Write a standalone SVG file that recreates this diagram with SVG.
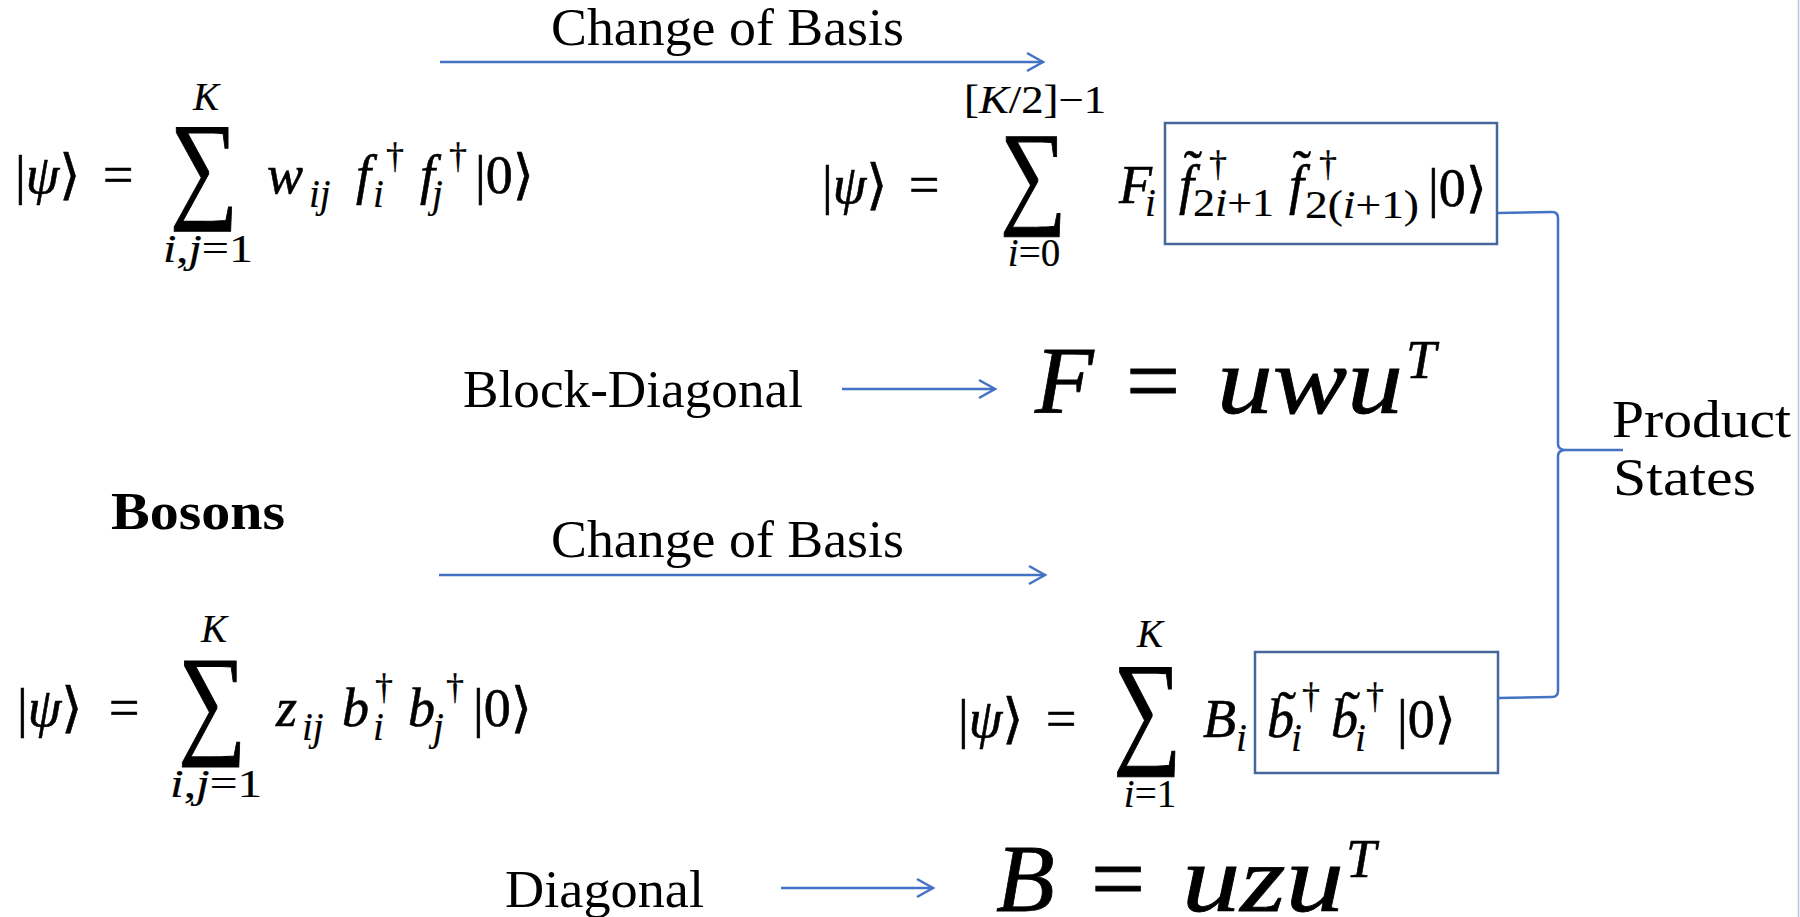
<svg xmlns="http://www.w3.org/2000/svg" width="1800" height="917" viewBox="0 0 1800 917">
<style>
  .lbl { font-family: "Liberation Serif", "DejaVu Serif", serif; font-size: 53px; fill: #000; }
  .m { font-family: "Liberation Serif", "DejaVu Serif", serif; font-size: 54px; fill: #000; stroke: #000; stroke-width: 0.6px; }
  .s { font-size: 39px; stroke-width: 0.2px; }
  .sup { font-size: 36px; stroke-width: 0.3px; }
  .it { font-style: italic; }
  .big { font-size: 96px; stroke-width: 0.8px; }
  .sum { font-family: "Liberation Serif", "DejaVu Serif", serif; font-size: 120px; fill: #000; stroke: #000; stroke-width: 1px; }
  .conn { fill: none; stroke: #4472C4; stroke-width: 2.5; }
  .box { fill: none; stroke: #45679A; stroke-width: 2.5; }
</style>
<defs>
  <marker id="arr" markerUnits="userSpaceOnUse" viewBox="-18 -12 22 24" markerWidth="22" markerHeight="24" refX="0" refY="0" orient="auto">
    <path d="M-16,-9 L0,0 L-16,9" fill="none" stroke="#4472C4" stroke-width="2.5"/>
  </marker>
</defs>
<rect x="0" y="0" width="1800" height="917" fill="#ffffff"/>
<line x1="1798.5" y1="0" x2="1798.5" y2="917" stroke="#b8c2d6" stroke-width="1.5"/>

<g id="change-basis-1"><text class="lbl" x="551" y="45" textLength="353" lengthAdjust="spacingAndGlyphs">Change of Basis</text></g>
<g id="change-basis-2"><text class="lbl" x="551" y="557" textLength="353" lengthAdjust="spacingAndGlyphs">Change of Basis</text></g>
<g id="block-diagonal-label"><text class="lbl" x="463" y="407" textLength="340" lengthAdjust="spacingAndGlyphs">Block-Diagonal</text></g>
<g id="diagonal-label"><text class="lbl" x="505" y="907" textLength="199" lengthAdjust="spacingAndGlyphs">Diagonal</text></g>
<g id="bosons-label"><text class="lbl" x="111" y="529" font-weight="bold" textLength="174" lengthAdjust="spacingAndGlyphs">Bosons</text></g>
<g id="product-states">
  <text class="lbl" x="1612" y="437" textLength="179" lengthAdjust="spacingAndGlyphs">Product</text>
  <text class="lbl" x="1613" y="495" textLength="143" lengthAdjust="spacingAndGlyphs">States</text>
</g>

<!-- Fermion pair state -->
<g id="fermion-sum">
  <text class="m" x="15" y="193">|<tspan class="it">ψ</tspan>⟩</text>
  <text class="m" x="103" y="193" font-size="58">=</text>
  <text class="sum" transform="translate(170,206) scale(0.8,1)">∑</text>
  <text class="m s it" x="206" y="110" text-anchor="middle">K</text>
  <text class="m s" x="208" y="262" text-anchor="middle" textLength="90" lengthAdjust="spacingAndGlyphs"><tspan class="it">i</tspan>,<tspan class="it">j</tspan>=1</text>
  <text class="m it" x="267" y="193" font-size="58">w</text>
  <text class="m s it" x="309" y="207">ij</text>
  <text class="m it" x="356" y="193" font-size="58">f</text>
  <text class="m s it" x="373" y="207">i</text>
  <text class="m sup" x="386" y="168">†</text>
  <text class="m it" x="420" y="193" font-size="58">f</text>
  <text class="m s it" x="432" y="207">j</text>
  <text class="m sup" x="449" y="168">†</text>
  <text class="m" x="475" y="193">|0⟩</text>
</g>

<g id="fermion-product">
  <text class="m" x="822" y="203">|<tspan class="it">ψ</tspan>⟩</text>
  <text class="m" x="909" y="203" font-size="58">=</text>
  <text class="sum" transform="translate(1000,212) scale(0.78,0.96)">∑</text>
  <text class="m s" x="1035" y="113" text-anchor="middle" textLength="142" lengthAdjust="spacingAndGlyphs">[<tspan class="it">K</tspan>/2]−1</text>
  <text class="m s" x="1034" y="266" text-anchor="middle"><tspan class="it">i</tspan>=0</text>
  <text class="m it" x="1119" y="203">F</text>
  <text class="m s it" x="1145" y="216">i</text>
  <rect class="box" x="1165" y="123" width="332" height="121"/>
  <text class="m it" x="1179" y="203" font-size="60">f</text>
  <text class="m" x="1193" y="188" text-anchor="middle" font-size="62">˜</text>
  <text class="m sup" x="1209" y="176">†</text>
  <text class="m s" x="1193" y="216" textLength="81" lengthAdjust="spacingAndGlyphs">2<tspan class="it">i</tspan>+1</text>
  <text class="m it" x="1289" y="203" font-size="60">f</text>
  <text class="m" x="1302" y="188" text-anchor="middle" font-size="62">˜</text>
  <text class="m sup" x="1319" y="176">†</text>
  <text class="m s" x="1305" y="218" textLength="114" lengthAdjust="spacingAndGlyphs">2(<tspan class="it">i</tspan>+1)</text>
  <text class="m" x="1428" y="206">|0⟩</text>
</g>

<g id="F-eq">
  <text class="m big it" x="1035" y="413" font-size="100">F</text>
  <text class="m big" x="1126" y="413">=</text>
  <text class="m big it" x="1217" y="413" textLength="186" lengthAdjust="spacingAndGlyphs">uwu</text>
  <text class="m it" x="1406" y="378" font-size="64" stroke-width="0.6">T</text>
</g>

<!-- Boson pair state -->
<g id="boson-sum">
  <text class="m" x="17" y="726">|<tspan class="it">ψ</tspan>⟩</text>
  <text class="m" x="109" y="726" font-size="58">=</text>
  <text class="sum" transform="translate(178,741) scale(0.8,1.02)">∑</text>
  <text class="m s it" x="214" y="642" text-anchor="middle">K</text>
  <text class="m s" x="216" y="797" text-anchor="middle" textLength="92" lengthAdjust="spacingAndGlyphs"><tspan class="it">i</tspan>,<tspan class="it">j</tspan>=1</text>
  <text class="m it" x="276" y="726" font-size="58">z</text>
  <text class="m s it" x="302" y="740">ij</text>
  <text class="m it" x="342" y="726" font-size="58">b</text>
  <text class="m s it" x="373" y="740">i</text>
  <text class="m sup" x="375" y="699">†</text>
  <text class="m it" x="408" y="726" font-size="58">b</text>
  <text class="m s it" x="433" y="740">j</text>
  <text class="m sup" x="446" y="699">†</text>
  <text class="m" x="473" y="726">|0⟩</text>
</g>

<g id="boson-product">
  <text class="m" x="958" y="737">|<tspan class="it">ψ</tspan>⟩</text>
  <text class="m" x="1046" y="737" font-size="60">=</text>
  <text class="sum" transform="translate(1113,750) scale(0.8,1.05)">∑</text>
  <text class="m s it" x="1150" y="647" text-anchor="middle">K</text>
  <text class="m s" x="1150" y="807" text-anchor="middle"><tspan class="it">i</tspan>=1</text>
  <text class="m it" x="1203" y="737">B</text>
  <text class="m s it" x="1236" y="751">i</text>
  <rect class="box" x="1255" y="652" width="243" height="121"/>
  <text class="m it" x="1267" y="737" font-size="58">b</text>
  <text class="m" x="1287" y="729" text-anchor="middle" font-size="62">˜</text>
  <text class="m s it" x="1291" y="751">i</text>
  <text class="m sup" x="1302" y="708">†</text>
  <text class="m it" x="1331" y="737" font-size="58">b</text>
  <text class="m" x="1351" y="729" text-anchor="middle" font-size="62">˜</text>
  <text class="m s it" x="1355" y="751">i</text>
  <text class="m sup" x="1366" y="708">†</text>
  <text class="m" x="1397" y="737">|0⟩</text>
</g>

<g id="B-eq">
  <text class="m big it" x="996" y="911" font-size="100">B</text>
  <text class="m big" x="1091" y="911">=</text>
  <text class="m big it" x="1182" y="911" textLength="162" lengthAdjust="spacingAndGlyphs">uzu</text>
  <text class="m it" x="1346" y="877" font-size="64" stroke-width="0.6">T</text>
</g>

<g id="connectors">
  <line class="conn" x1="440" y1="62" x2="1043" y2="62" marker-end="url(#arr)"/>
  <line class="conn" x1="439" y1="575" x2="1045" y2="575" marker-end="url(#arr)"/>
  <line class="conn" x1="842" y1="389" x2="995" y2="389" marker-end="url(#arr)"/>
  <line class="conn" x1="781" y1="888" x2="933" y2="888" marker-end="url(#arr)"/>
  <path class="conn" d="M1498,213 L1552,212 Q1558,212 1558,218 L1558,444 Q1558,450 1566,450 L1623,450 M1566,450 Q1558,450 1558,456 L1558,691 Q1558,697 1552,697 L1498,698"/>
</g>
</svg>
